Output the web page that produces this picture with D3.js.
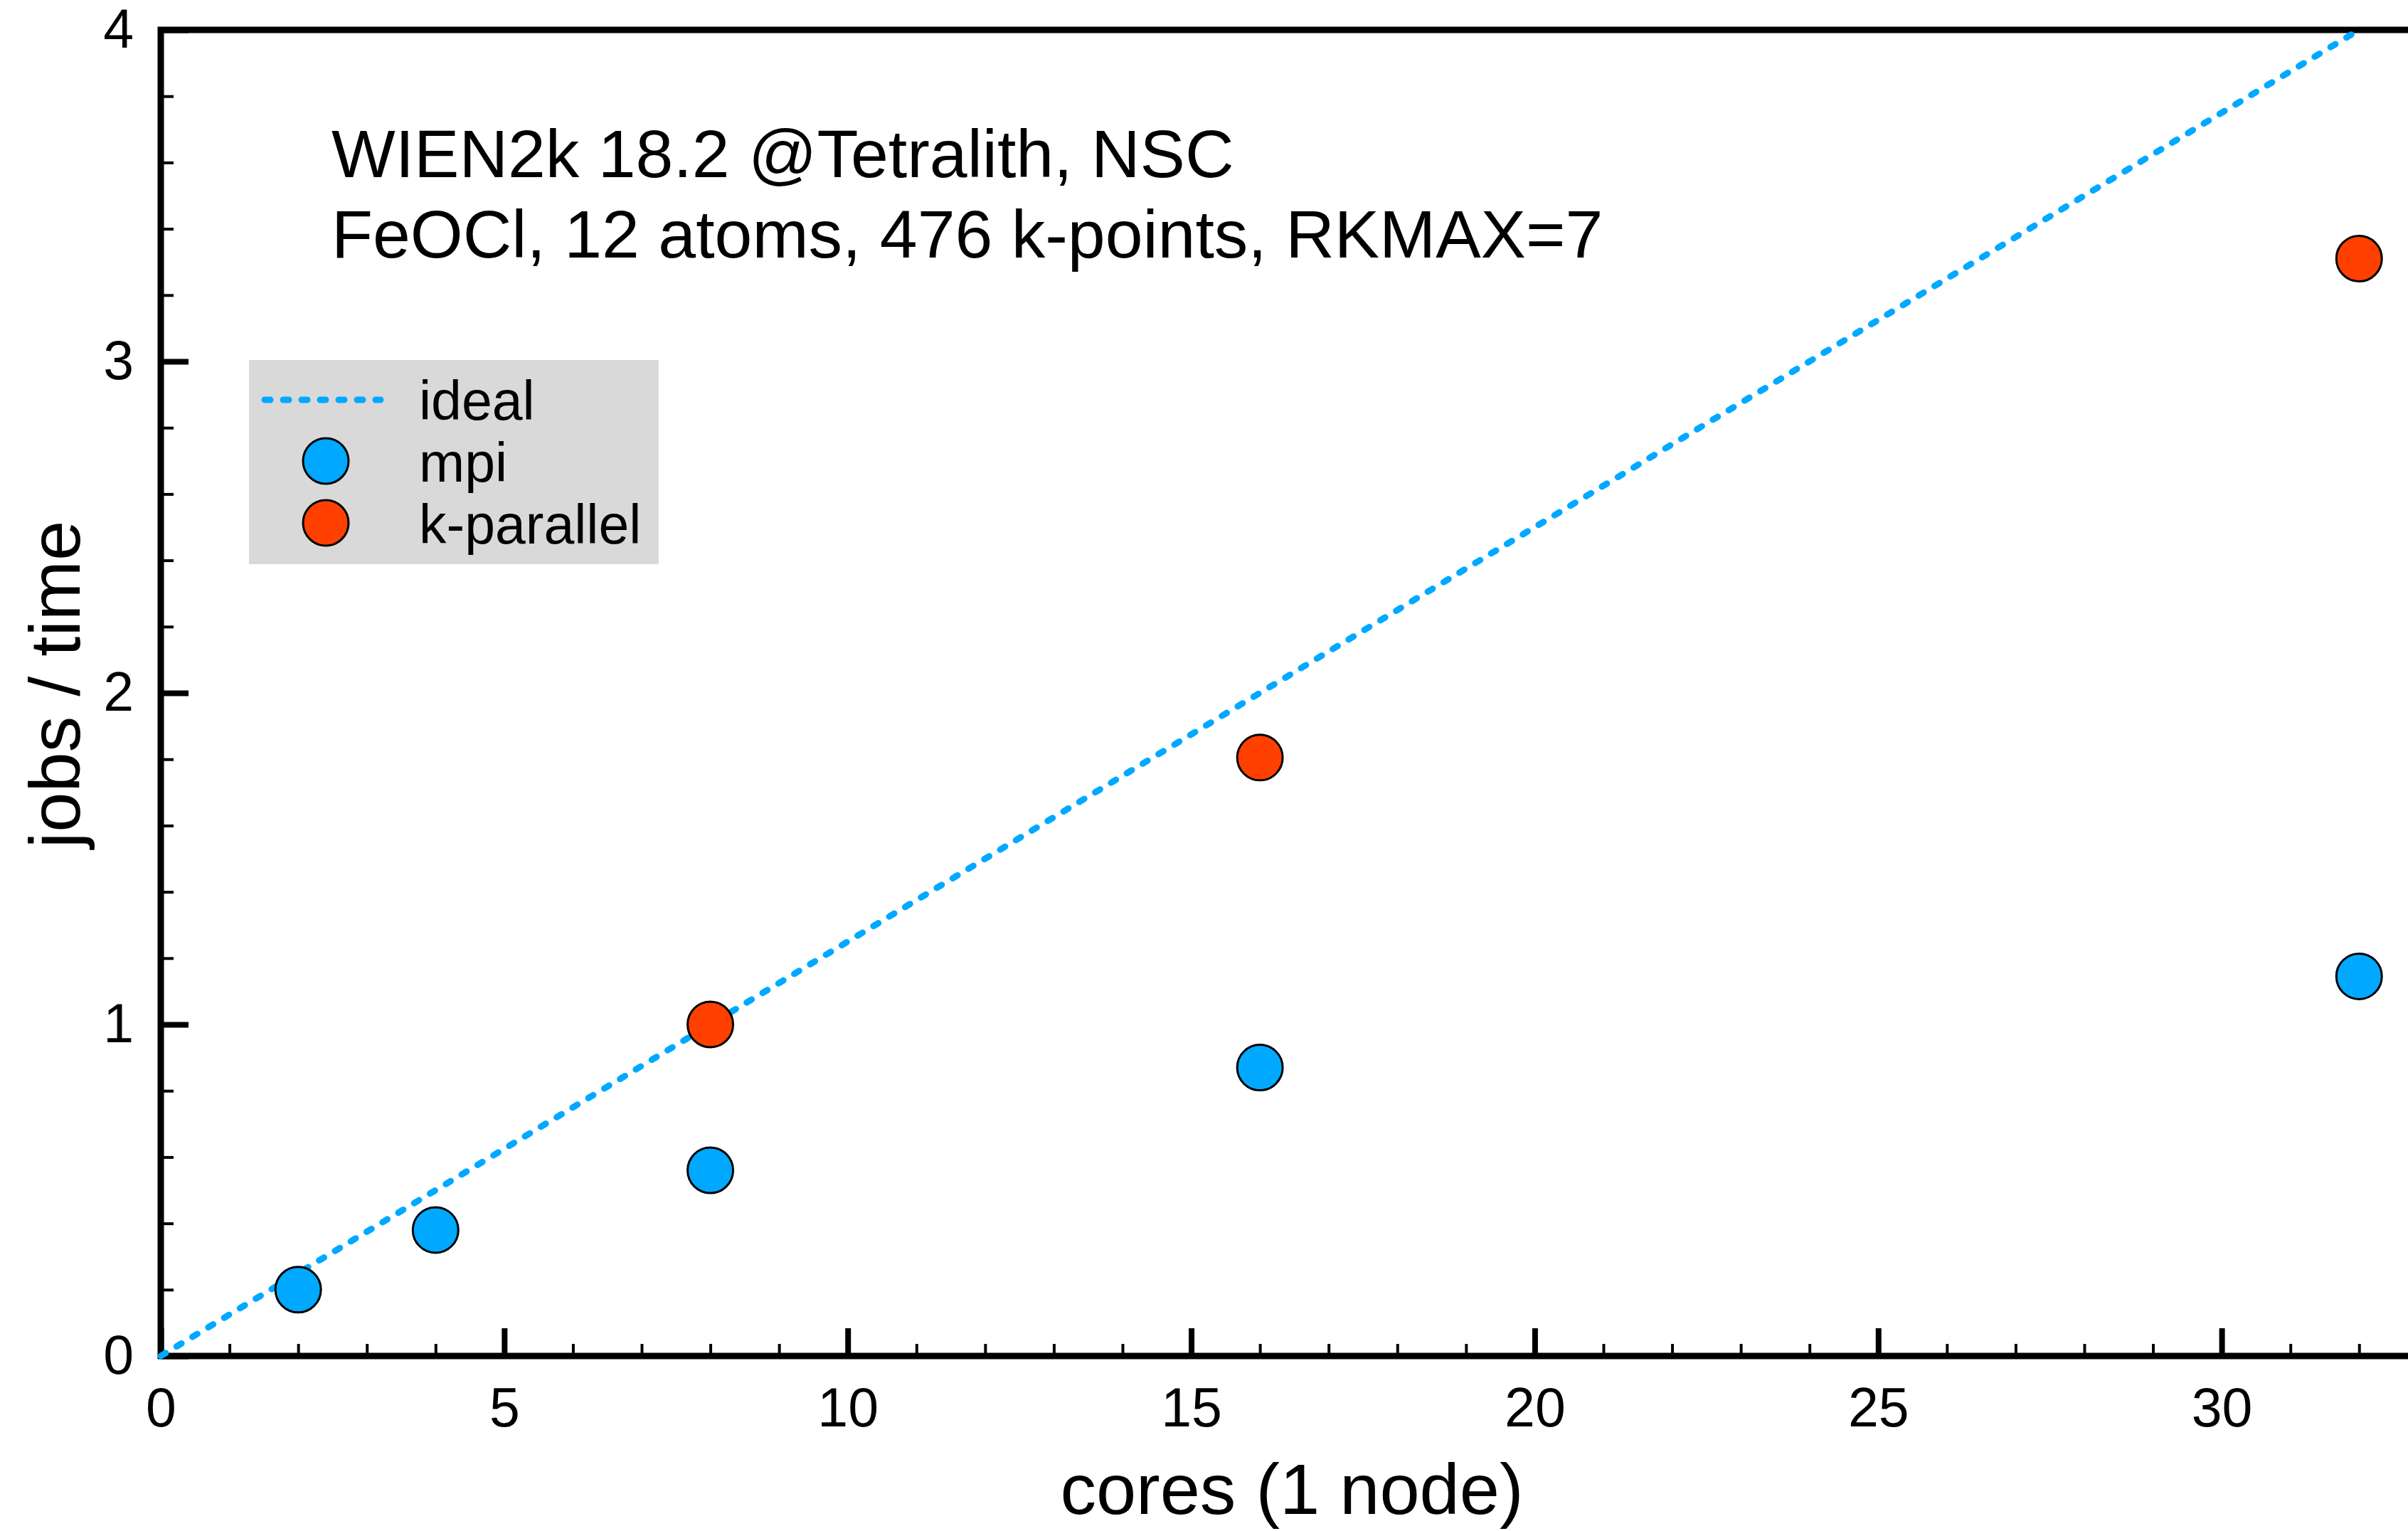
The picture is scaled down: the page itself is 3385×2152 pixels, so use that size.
<html>
<head>
  <meta charset="utf-8">
  <title>WIEN2k scaling</title>
  <style>
    body {
      margin: 0;
      padding: 0;
      background: white;
      font-family: "Liberation Sans", Arial, Helvetica, sans-serif;
    }
    .tick text {
      font-family: "Liberation Sans", Arial, sans-serif;
    }
  </style>
</head>
<body>
  <div id="chart"></div>

  <script src="https://cdnjs.cloudflare.com/ajax/libs/d3/7.8.5/d3.min.js"></script>
  <script>
    // data
    var mpiCores = [2, 4, 8, 16, 32];
    var mpiRate = [0.2, 0.38, 0.56, 0.87, 1.145];
    var kparCores = [8, 16, 32];
    var kparRate = [1.0, 1.805, 3.31];
    var idealCores = [0, 32];
    var idealRate = [0, 4];
    var xMajorTicks = [0, 5, 10, 15, 20, 25, 30];
    var yMajorTicks = [0, 1, 2, 3, 4];
    var titleLines = ["WIEN2k 18.2 @Tetralith, NSC", "FeOCl, 12 atoms, 476 k-points, RKMAX=7"];
    var legendLabels = ["ideal", "mpi", "k-parallel"];

    var blue = "#00a9ff",
      red = "#ff4000";

    var width = 3385,
      height = 2152;

    var svg = d3.select("#chart")
      .append("svg")
      .attr("width", width)
      .attr("height", height);

    // x: 0 at 226px, 1 unit ~ 96.57px ; y: 0..4 from 1906 to 42
    var x = d3.scaleLinear().domain([0, 33]).range([226, 226 + 33 * 96.57]);
    var y = d3.scaleLinear().domain([0, 4]).range([1906, 42]);

    // minor ticks
    svg.append("g")
      .attr("transform", "translate(0," + y(0) + ")")
      .call(d3.axisBottom(x).tickValues(d3.range(0, 34, 1)).tickSize(-17).tickFormat(""))
      .call(function(g) {
        g.select(".domain").remove();
        g.selectAll("line").attr("stroke-width", 4);
      });

    svg.append("g")
      .attr("transform", "translate(" + x(0) + ",0)")
      .call(d3.axisLeft(y).tickValues(d3.range(0, 4.01, 0.2)).tickSize(-18).tickFormat(""))
      .call(function(g) {
        g.select(".domain").remove();
        g.selectAll("line").attr("stroke-width", 4);
      });

    // major ticks + labels
    svg.append("g")
      .attr("transform", "translate(0," + y(0) + ")")
      .call(d3.axisBottom(x).tickValues(xMajorTicks).tickSize(-39).tickPadding(44).tickFormat(d3.format("d")))
      .call(function(g) {
        g.select(".domain").remove();
        g.selectAll("line").attr("stroke-width", 8);
        g.selectAll("text").attr("font-size", 77).attr("fill", "black");
      });

    svg.append("g")
      .attr("transform", "translate(" + x(0) + ",0)")
      .call(d3.axisLeft(y).tickValues(yMajorTicks).tickSize(-39).tickPadding(38).tickFormat(d3.format("d")))
      .call(function(g) {
        g.select(".domain").remove();
        g.selectAll("line").attr("stroke-width", 8);
        g.selectAll("text").attr("font-size", 77).attr("fill", "black");
      });

    // frame (right edge falls outside the picture)
    svg.append("path")
      .attr("d", "M" + x(33) + "," + y(4) + "H" + x(0) + "V" + y(0) + "H" + x(33))
      .attr("fill", "none")
      .attr("stroke", "black")
      .attr("stroke-width", 9);

    // ideal line
    var line = d3.line()
      .x(function(d) { return x(d[0]); })
      .y(function(d) { return y(d[1]); });

    svg.append("path")
      .datum(d3.zip(idealCores, idealRate))
      .attr("d", line)
      .attr("fill", "none")
      .attr("stroke", blue)
      .attr("stroke-width", 9)
      .attr("stroke-linecap", "round")
      .attr("stroke-dasharray", "8,18");

    // points
    function dots(xs, ys, color) {
      svg.append("g")
        .selectAll("circle")
        .data(d3.zip(xs, ys))
        .enter()
        .append("circle")
        .attr("cx", function(d) { return x(d[0]); })
        .attr("cy", function(d) { return y(d[1]); })
        .attr("r", 32)
        .attr("fill", color)
        .attr("stroke", "black")
        .attr("stroke-width", 3);
    }
    dots(mpiCores, mpiRate, blue);
    dots(kparCores, kparRate, red);

    // title text
    svg.append("g")
      .selectAll("text")
      .data(titleLines)
      .enter()
      .append("text")
      .attr("x", 466)
      .attr("y", function(d, i) { return 249 + i * 113; })
      .attr("font-size", 95)
      .text(function(d) { return d; });

    // legend
    var legend = svg.append("g").attr("transform", "translate(350,506)");
    legend.append("rect")
      .attr("width", 576)
      .attr("height", 287)
      .attr("fill", "#d9d9d9");
    legend.append("line")
      .attr("x1", 22).attr("x2", 185)
      .attr("y1", 56).attr("y2", 56)
      .attr("stroke", blue)
      .attr("stroke-width", 9)
      .attr("stroke-linecap", "round")
      .attr("stroke-dasharray", "8,18");
    legend.selectAll("circle")
      .data([blue, red])
      .enter()
      .append("circle")
      .attr("cx", 108)
      .attr("cy", function(d, i) { return 142 + i * 87; })
      .attr("r", 32)
      .attr("fill", function(d) { return d; })
      .attr("stroke", "black")
      .attr("stroke-width", 3);
    legend.selectAll("text")
      .data(legendLabels)
      .enter()
      .append("text")
      .attr("x", 239)
      .attr("y", function(d, i) { return 84 + i * 87; })
      .attr("font-size", 77)
      .text(function(d) { return d; });

    // axis titles
    svg.append("text")
      .attr("x", 1816)
      .attr("y", 2128)
      .attr("text-anchor", "middle")
      .attr("font-size", 101)
      .text("cores (1 node)");

    svg.append("text")
      .attr("transform", "translate(112,962) rotate(-90)")
      .attr("text-anchor", "middle")
      .attr("font-size", 101)
      .text("jobs / time");
  </script>
</body>
</html>
